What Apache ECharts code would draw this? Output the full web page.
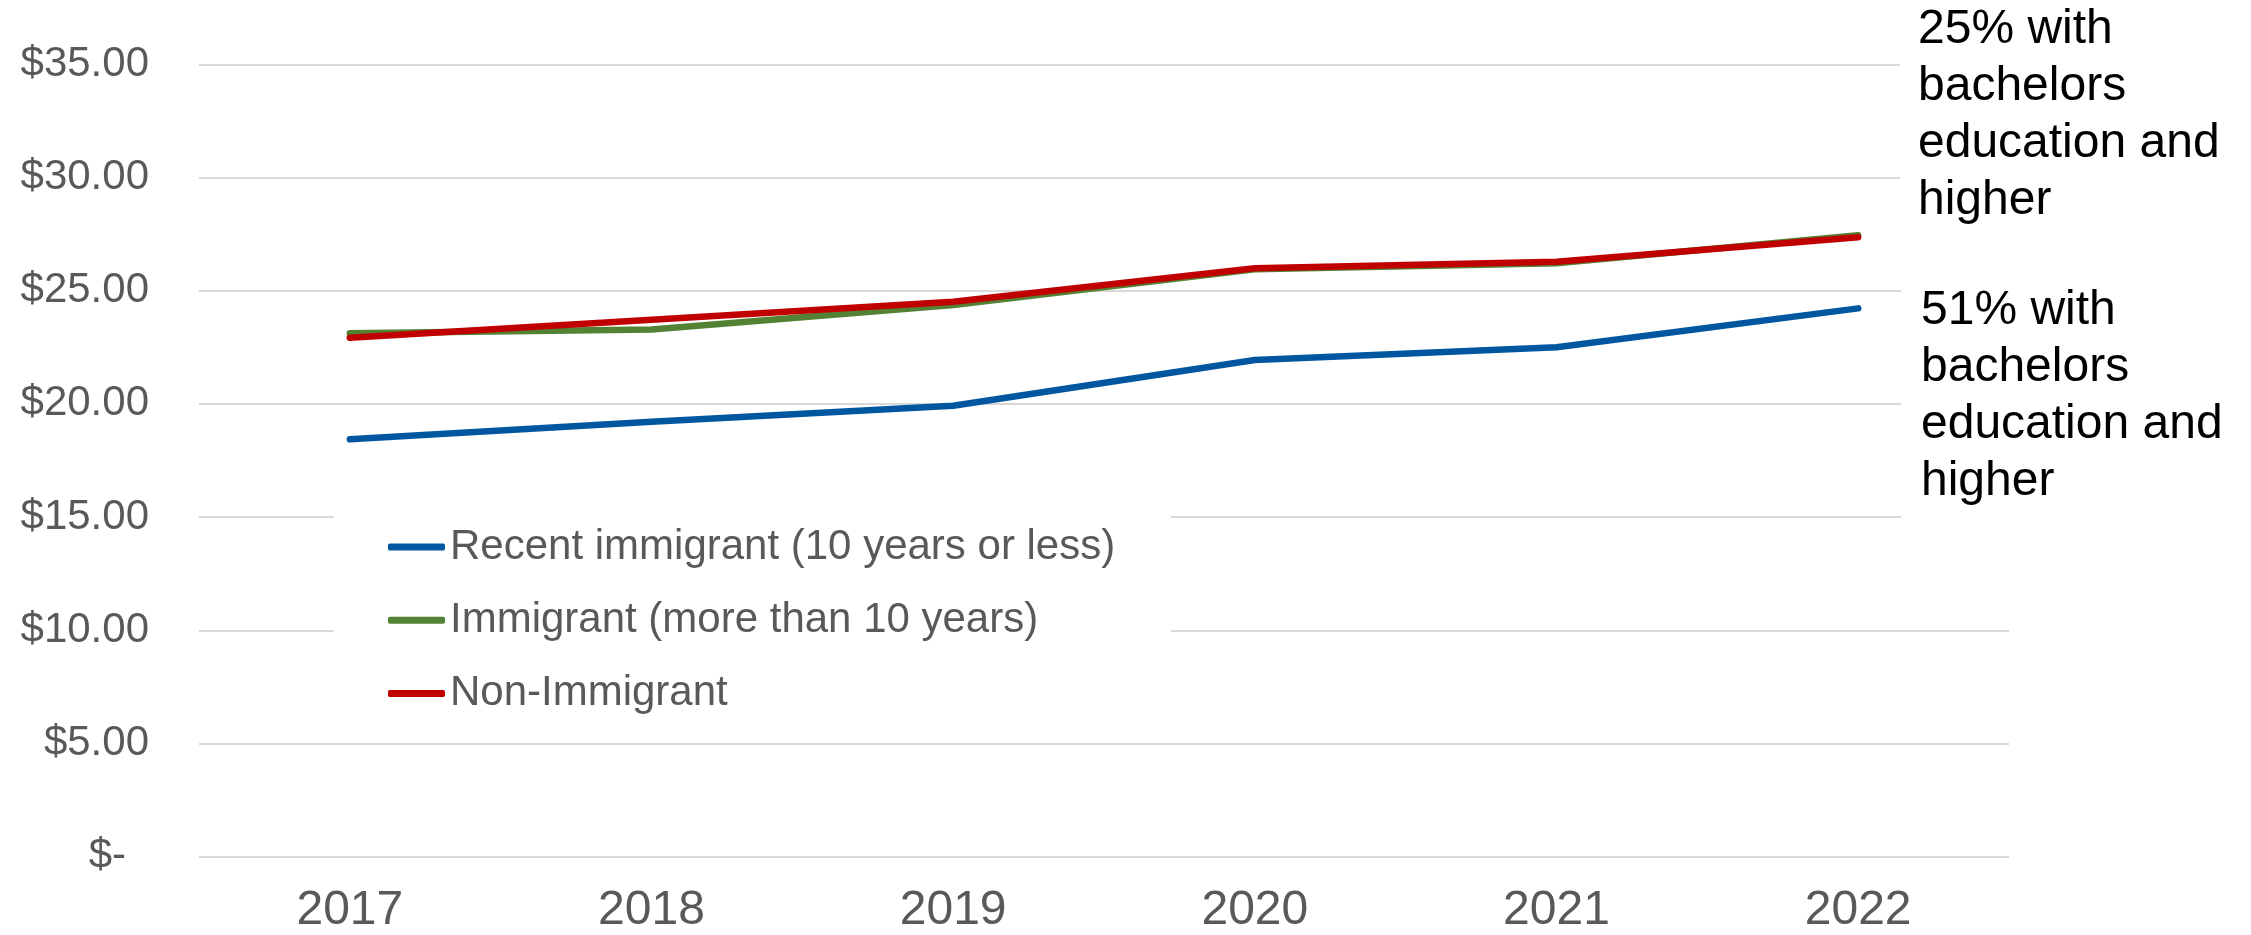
<!DOCTYPE html>
<html>
<head>
<meta charset="utf-8">
<title>Hourly wages by immigrant status</title>
<script src="https://cdn.jsdelivr.net/npm/echarts@6/dist/echarts.min.js"></script>
<style>
  html, body { margin: 0; padding: 0; background: #ffffff; }
  #chart { width: 2251px; height: 935px; }
</style>
</head>
<body>
<div id="chart"></div>
<script>
// Years on the category axis
const years = ['2017', '2018', '2019', '2020', '2021', '2022'];

// Average hourly wage ($) per group
const recentImmigrant = [18.44, 19.21, 19.92, 21.94, 22.50, 24.22];
const establishedImmigrant = [23.12, 23.29, 24.37, 25.95, 26.21, 27.45];
const nonImmigrant = [22.92, 23.72, 24.51, 25.99, 26.28, 27.36];

// Series names shown in the legend
const seriesNames = [
  'Recent immigrant (10 years or less)',
  'Immigrant (more than 10 years)',
  'Non-Immigrant'
];

// Side notes on educational attainment
const noteUpper = '25% with\nbachelors\neducation and\nhigher';
const noteLower = '51% with\nbachelors\neducation and\nhigher';

const FONT = '"Liberation Sans", Arial, sans-serif';
const GREY = '#595959';
const GRID = '#D9D9D9';
const colors = ['#0057A0', '#548235', '#C00000'];

const chart = echarts.init(document.getElementById('chart'));

function lineSeries(name, data, color, z) {
  return {
    name: name,
    type: 'line',
    data: data,
    z: z,
    symbol: 'none',
    showSymbol: false,
    smooth: false,
    color: color,
    lineStyle: { color: color, width: 6.5, cap: 'round', join: 'round' },
    emphasis: { disabled: true }
  };
}

chart.setOption({
  backgroundColor: '#ffffff',
  animation: false,
  textStyle: { fontFamily: FONT },
  grid: { left: 199, right: 242, top: 64.3, bottom: 78.3, containLabel: false },
  xAxis: {
    type: 'category',
    data: years,
    boundaryGap: true,
    axisLine: { show: false },
    axisTick: { show: false },
    axisLabel: { color: GREY, fontSize: 48, fontFamily: FONT, margin: 30 }
  },
  yAxis: {
    type: 'value',
    min: 0,
    max: 35,
    interval: 5,
    axisLine: { show: false },
    axisTick: { show: false },
    splitLine: { lineStyle: { color: GRID, width: 2 } },
    axisLabel: {
      color: GREY,
      fontSize: 42,
      fontFamily: FONT,
      margin: 50,
      formatter: function (v) {
        return v === 0 ? '{z|$-}' : '$' + v.toFixed(2);
      },
      rich: {
        z: { color: GREY, fontSize: 42, fontFamily: FONT, padding: [0, 23, 0, 0] }
      }
    }
  },
  legend: {
    orient: 'vertical',
    left: 388,
    top: 526,
    padding: 0,
    itemWidth: 57,
    itemHeight: 7,
    itemGap: 31.3,
    icon: 'roundRect',
    selectedMode: false,
    data: seriesNames,
    textStyle: { color: GREY, fontSize: 42, lineHeight: 42, fontFamily: FONT }
  },
  graphic: [
    // white backing of the legend box
    { type: 'rect', z: 1, silent: true, shape: { x: 334, y: 495, width: 837, height: 225 }, style: { fill: '#ffffff' } },
    // white backing of the side notes
    { type: 'rect', z: 1, silent: true, shape: { x: 1900, y: 0, width: 351, height: 236 }, style: { fill: '#ffffff' } },
    { type: 'rect', z: 1, silent: true, shape: { x: 1901, y: 278, width: 350, height: 250 }, style: { fill: '#ffffff' } },
    {
      type: 'text', z: 5, silent: true, left: 1918, top: 1,
      style: { text: noteUpper, fill: '#000000', font: '48px ' + FONT, lineHeight: 57 }
    },
    {
      type: 'text', z: 5, silent: true, left: 1921, top: 282,
      style: { text: noteLower, fill: '#000000', font: '48px ' + FONT, lineHeight: 57 }
    }
  ],
  series: [
    lineSeries(seriesNames[0], recentImmigrant, colors[0], 2),
    lineSeries(seriesNames[1], establishedImmigrant, colors[1], 3),
    lineSeries(seriesNames[2], nonImmigrant, colors[2], 4)
  ]
});
</script>
</body>
</html>
